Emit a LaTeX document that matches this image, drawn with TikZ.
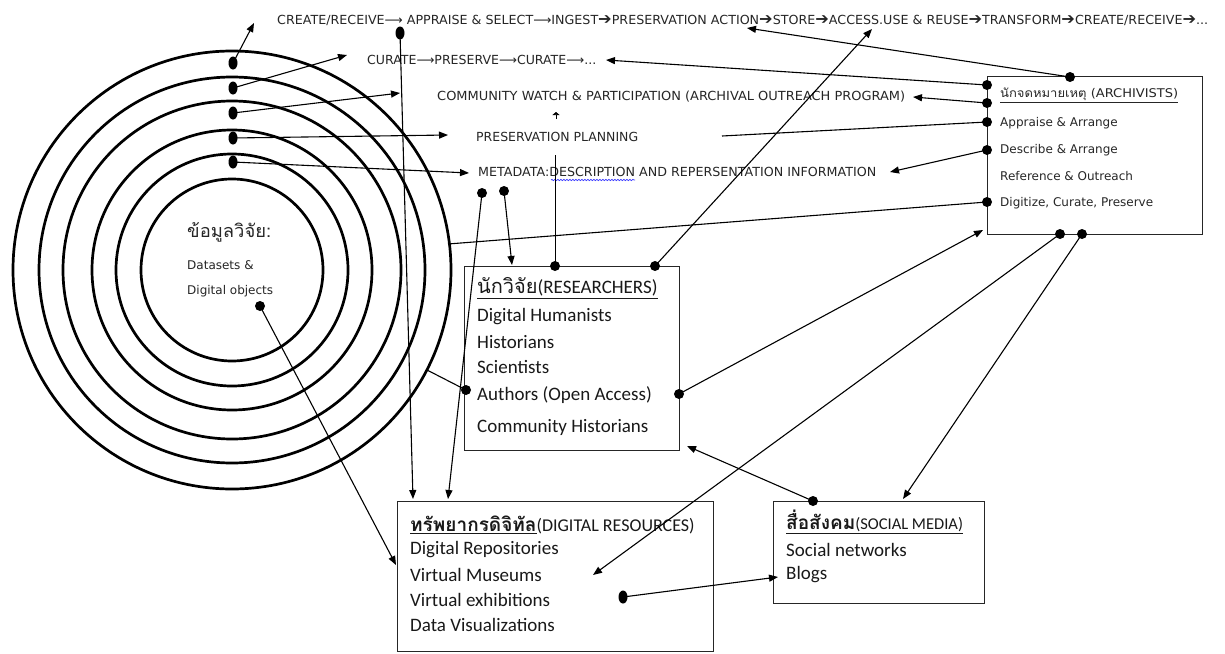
\documentclass[tikz,border=0pt]{standalone}
\usepackage{fontspec}
\usepackage{graphicx}
\setmainfont{Carlito}
\newfontfamily\tahf{DejaVu Sans}
\newfontfamily\thaif[Script=Thai]{Loma}
\usetikzlibrary{arrows.meta,shapes.geometric,decorations.pathmorphing}
\newcommand{\fitw}[2]{\resizebox{#1}{\height}{#2}}
\newcommand{\harr}{{\fontsize{16}{14}\selectfont\raisebox{-0.5pt}{➔}}}
\begin{document}
\begin{tikzpicture}[x=1pt,y=-1pt,
  conn/.style={line width=1.1pt,draw=black},
  arr/.style={conn,-{Triangle[length=9pt,width=7pt]}},
  dot/.style={circle,fill=black,inner sep=0pt,minimum size=10pt},
  odot/.style={ellipse,fill=black,inner sep=0pt,minimum width=9pt,minimum height=13pt},
  ring/.style={line width=2.7pt},
  boxst/.style={draw=black!85,line width=1.2pt,rectangle,inner sep=0pt,anchor=north west},
  flow/.style={anchor=west,inner sep=0pt,text=black!85,font=\tahf\fontsize{12.5}{14}\selectfont},
  small/.style={anchor=west,inner sep=0pt,text=black!85,font=\tahf\fontsize{12}{14}\selectfont},
  item/.style={anchor=west,inner sep=0pt,text=black!90,font=\fontsize{19}{22}\selectfont},
]
\useasboundingbox[fill=white] (0,0) rectangle (1225,653);

% rings
\foreach \r in {219,193,169,140,116,91} \draw[ring] (232,270) circle[radius=\r];

% flow texts
\node[flow] (top) at (277,20) {\fitw{931pt}{CREATE/RECEIVE⟶ APPRAISE \& SELECT⟶INGEST\harr PRESERVATION ACTION\harr STORE\harr ACCESS.USE \& REUSE\harr TRANSFORM\harr CREATE/RECEIVE\harr ...}};
\node[flow] (cur) at (367,60) {\fitw{229pt}{CURATE⟶PRESERVE⟶CURATE⟶...}};
\node[flow] (com) at (437,97) {\fitw{468pt}{COMMUNITY WATCH \& PARTICIPATION (ARCHIVAL OUTREACH PROGRAM)}};
\node[flow] (plan) at (476,137) {\fitw{162pt}{PRESERVATION PLANNING}};
\node[flow] (meta) at (478,172) {\fitw{398pt}{METADATA:DESCRIPTION AND REPERSENTATION INFORMATION}};
\draw[blue!75,line width=0.7pt,decorate,decoration={snake,amplitude=0.7pt,segment length=3pt}] (551,180) -- (635,180);

% centre text
\node[anchor=west,inner sep=0pt,font=\thaif\fontsize{18}{20}\selectfont,text=black!85] (th) at (187,232) {\fitw{84pt}{ข้อมูลวิจัย:}};
\node[small] (ds) at (187,265) {Datasets \&};
\node[small] (dob) at (187,291) {Digital objects};

% boxes
\node[boxst,minimum width=215pt,minimum height=158pt] (arch) at (987,76) {};
\node[boxst,minimum width=215pt,minimum height=184pt] (res) at (464,266) {};
\node[boxst,minimum width=316pt,minimum height=150pt] (dig) at (397,501) {};
\node[boxst,minimum width=211pt,minimum height=102pt] (soc) at (773,501) {};

% archivists
\node[small] (ah) at (1000,95) {\fitw{178pt}{\underline{{\thaif นักจดหมายเหตุ} (ARCHIVISTS)}}};
\node[small] (a1t) at (1000,123) {Appraise \& Arrange};
\node[small] (a2t) at (1000,150) {Describe \& Arrange};
\node[small] (a3t) at (1000,176) {Reference \& Outreach};
\node[small] (a4t) at (1000,203) {Digitize, Curate, Preserve};

% researchers
\node[item] (rh) at (477,288) {\underline{{\thaif\fontsize{20}{22}\selectfont นักวิจัย}(RESEARCHERS)}};
\node[item] (r1t) at (477,317) {Digital Humanists};
\node[item] (r2t) at (477,342) {Historians};
\node[item] (r3t) at (477,367) {Scientists};
\node[item] (r4t) at (477,395) {Authors (Open Access)};
\node[item] (r5t) at (477,427) {Community Historians};

% digital resources
\node[item] (dh) at (410,525) {\underline{\thaif\bfseries ทรัพยากรดิจิทัล}{\fontsize{18}{20}\selectfont(DIGITAL RESOURCES)}};
\node[item] (d1t) at (410,550) {Digital Repositories};
\node[item] (d2t) at (410,575) {Virtual Museums};
\node[item] (d3t) at (410,600) {Virtual exhibitions};
\node[item] (d4t) at (410,625) {Data Visualizations};

% social media
\node[item] (sh) at (786,522) {\underline{{\thaif\bfseries สื่อสังคม}{\fontsize{16.5}{20}\selectfont(SOCIAL MEDIA)}}};
\node[item] (s1t) at (786,550) {Social networks};
\node[item] (s2t) at (786,575) {Blogs};

% coordinates (free ends)
\coordinate (t1) at (254,23);
\coordinate (t2) at (347,55);
\coordinate (t3) at (400,93);
\coordinate (t4) at (448,135);
\coordinate (t5) at (469,173);
\coordinate (dtop1) at (413,499);
\coordinate (dtop2) at (448,499);
\coordinate (rtop) at (512,265);
\coordinate (vend) at (555,155);
\coordinate (tm1) at (556,119);
\coordinate (tm2) at (556,112);
\coordinate (tacc) at (872,29);
\coordinate (ce1) at (427,370);
\coordinate (ce2) at (448,244);
\coordinate (abl) at (983,230);
\coordinate (dleft) at (396,565);
\coordinate (tact) at (747,28);
\coordinate (tcur) at (606,60);
\coordinate (tcom) at (913,97);
\coordinate (pend) at (722,136);
\coordinate (tmeta) at (890,172);
\coordinate (tdig) at (593,575);
\coordinate (tsoc) at (903,499);
\coordinate (tres) at (687,446);
\coordinate (tblog) at (778,577);

% dots
\foreach \n/\yy in {1/63,2/88,3/113,4/138,5/162} \node[odot] (r\n) at (233,\yy) {};
\node[odot] (pa) at (400,33) {};
\node[dot] (m1) at (482,193) {};
\node[dot] (m2) at (504,191) {};
\node[dot] (rt1) at (555,266) {};
\node[dot] (rt2) at (655,266) {};
\node[dot] (rl) at (466,390) {};
\node[dot] (rr) at (679,394) {};
\node[dot] (do) at (260,306) {};
\node[dot] (at) at (1070,77) {};
\node[dot] (al1) at (987,85) {};
\node[dot] (al2) at (987,103) {};
\node[dot] (al3) at (987,122) {};
\node[dot] (al4) at (987,150) {};
\node[dot] (al5) at (987,202) {};
\node[dot] (ab1) at (1060,234) {};
\node[dot] (ab2) at (1082,234) {};
\node[dot] (st) at (813,501) {};
\node[odot] (dd) at (623,597) {};

% connectors
\draw[arr] (r1.center) -- (t1);
\draw[arr] (r2.center) -- (t2);
\draw[arr] (r3.center) -- (t3);
\draw[arr] (r4.center) -- (t4);
\draw[arr] (r5.center) -- (t5);
\draw[arr] (pa.center) -- (dtop1);
\draw[arr] (m1.center) -- (dtop2);
\draw[arr] (m2.center) -- (rtop);
\draw[line width=0.9pt] (rt1.center) -- (vend);
\draw[line width=1pt,-{Triangle[length=3pt,width=7pt]}] (tm1) -- (tm2);
\draw[arr] (rt2.center) -- (tacc);
\draw[conn] (ce1) -- (rl.center);
\draw[arr] (rr.center) -- (abl);
\draw[arr] (do.center) -- (dleft);
\draw[arr] (at.center) -- (tact);
\draw[arr] (al1.center) -- (tcur);
\draw[arr] (al2.center) -- (tcom);
\draw[conn] (al3.center) -- (pend);
\draw[arr] (al4.center) -- (tmeta);
\draw[conn] (al5.center) -- (ce2);
\draw[arr] (ab1.center) -- (tdig);
\draw[arr] (ab2.center) -- (tsoc);
\draw[arr] (st.center) -- (tres);
\draw[arr] (dd.center) -- (tblog);
\end{tikzpicture}
\end{document}
